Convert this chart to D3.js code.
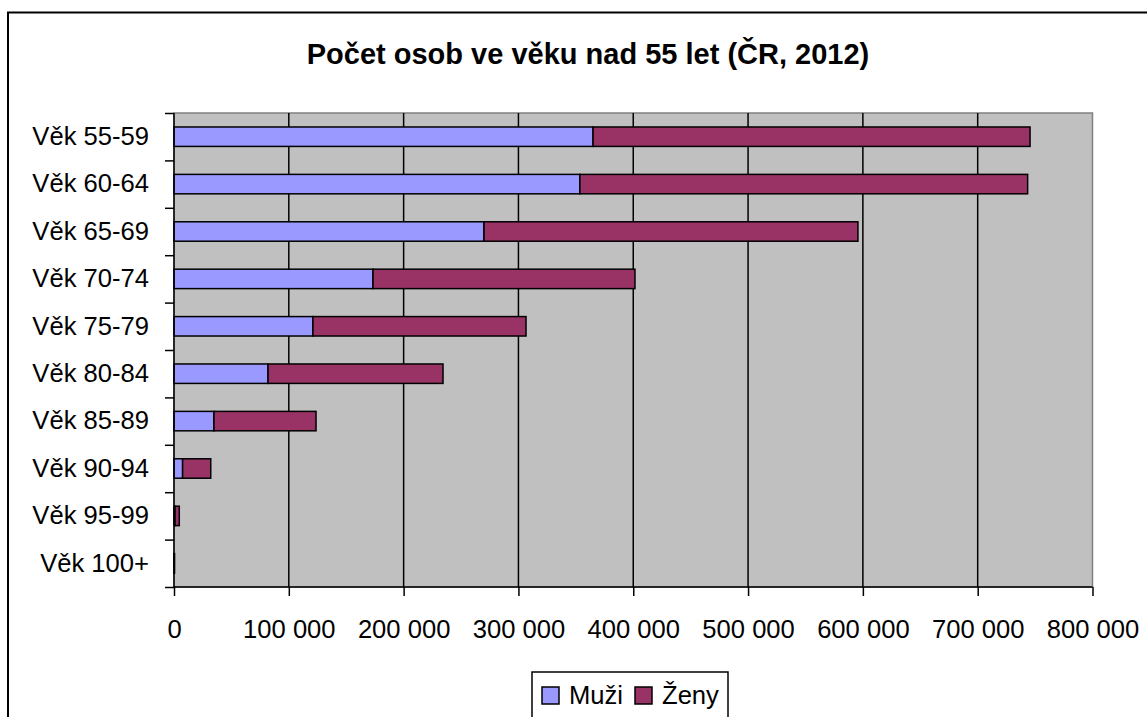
<!DOCTYPE html>
<html>

<head>
    <meta charset="utf-8">
    <style>
        body {
            margin: 0;
            background: #fff;
            font-family: 'Liberation Sans', Arial, sans-serif;
        }

        svg {
            display: block;
        }

        .axis .domain {
            display: none;
        }

        .axis text {
            font-size: 25.6px;
            fill: #000;
            font-family: 'Liberation Sans', Arial, sans-serif;
        }

        .axis .tick line {
            stroke: #000;
            stroke-width: 1.5;
        }
    </style>
</head>

<body>
    <svg width="1147" height="717"></svg>

    <script src="https://d3js.org/d3.v7.min.js"></script>

    <script>
        // data
        let categories = ["Věk 55-59", "Věk 60-64", "Věk 65-69", "Věk 70-74", "Věk 75-79",
            "Věk 80-84", "Věk 85-89", "Věk 90-94", "Věk 95-99", "Věk 100+"];
        let muzi = [365000, 353500, 270000, 173300, 121000, 81900, 34800, 7500, 900, 100];
        let zeny = [380600, 390000, 325700, 228200, 185600, 152400, 88900, 24500, 3700, 400];
        let seriesNames = ["Muži", "Ženy"];
        let xTicks = [0, 100000, 200000, 300000, 400000, 500000, 600000, 700000, 800000];

        let colors = ["#9999FF", "#993366"];

        let svg = d3.select("svg");

        let margin = { top: 113, right: 54.5, bottom: 130, left: 174 };
        let width = 1147, height = 717;
        let plotBottom = height - margin.bottom; // 587

        // outer chart border (right and bottom run off the picture)
        svg.append("rect")
            .attr("x", 8)
            .attr("y", 12.5)
            .attr("width", 1300)
            .attr("height", 900)
            .style("fill", "#fff")
            .style("stroke", "#000")
            .style("stroke-width", 2);

        let x = d3.scaleLinear()
            .domain([0, 800000])
            .range([margin.left, width - margin.right]);

        let y = d3.scaleBand()
            .domain(categories)
            .range([margin.top, plotBottom])
            .paddingInner(0.59)
            .paddingOuter(0.295);

        // plot background
        svg.append("rect")
            .attr("x", margin.left)
            .attr("y", margin.top)
            .attr("width", x(800000) - margin.left)
            .attr("height", plotBottom - margin.top)
            .style("fill", "#C0C0C0")
            .style("stroke", "#808080")
            .style("stroke-width", 1.5);

        // vertical gridlines
        svg.append("g")
            .selectAll("line")
            .data(xTicks.slice(1, -1))
            .join("line")
            .attr("x1", d => x(d))
            .attr("x2", d => x(d))
            .attr("y1", margin.top)
            .attr("y2", plotBottom)
            .style("stroke", "#000")
            .style("stroke-width", 1.5);

        // stacked bars
        let stackData = categories.map((c, i) => ({ cat: c, "Muži": muzi[i], "Ženy": zeny[i] }));
        let stacked = d3.stack().keys(seriesNames)(stackData);

        svg.append("g")
            .selectAll("g")
            .data(stacked)
            .join("g")
            .style("fill", (d, i) => colors[i])
            .selectAll("rect")
            .data(d => d)
            .join("rect")
            .attr("x", d => x(d[0]))
            .attr("y", d => y(d.data.cat))
            .attr("width", d => x(d[1]) - x(d[0]))
            .attr("height", y.bandwidth())
            .style("stroke", "#000")
            .style("stroke-width", 1.5);

        // axes lines
        svg.append("line")
            .attr("x1", margin.left).attr("x2", margin.left)
            .attr("y1", margin.top).attr("y2", plotBottom)
            .style("stroke", "#000").style("stroke-width", 1.5);
        svg.append("line")
            .attr("x1", margin.left).attr("x2", x(800000))
            .attr("y1", plotBottom).attr("y2", plotBottom)
            .style("stroke", "#000").style("stroke-width", 1.5);

        // y ticks at category boundaries
        let yTick = d3.scaleLinear().domain([0, categories.length]).range([margin.top, plotBottom]);
        svg.append("g")
            .attr("class", "axis")
            .attr("transform", `translate(${margin.left},0)`)
            .call(d3.axisLeft(yTick).ticks(10).tickFormat("").tickSize(9));

        // y labels
        svg.append("g")
            .attr("class", "axis")
            .attr("transform", `translate(${margin.left},0)`)
            .call(d3.axisLeft(y).tickSize(0).tickPadding(25));

        // x axis
        let fmt = d3.formatLocale({ decimal: ",", thousands: " ", grouping: [3], currency: ["", ""] }).format(",d");
        svg.append("g")
            .attr("class", "axis")
            .attr("transform", `translate(0,${plotBottom})`)
            .call(d3.axisBottom(x).tickValues(xTicks).tickFormat(fmt).tickSize(9).tickPadding(24));

        // title
        svg.append("text")
            .attr("x", 588)
            .attr("y", 64)
            .attr("text-anchor", "middle")
            .style("font-size", "29px")
            .style("font-weight", "bold")
            .text("Počet osob ve věku nad 55 let (ČR, 2012)");

        // legend
        let legend = svg.append("g").attr("transform", "translate(532,672)");
        legend.append("rect")
            .attr("width", 196)
            .attr("height", 80)
            .style("fill", "#fff")
            .style("stroke", "#000")
            .style("stroke-width", 1.5);

        let legendX = [10, 103];
        let items = legend.selectAll("g.item")
            .data(seriesNames)
            .join("g")
            .attr("class", "item")
            .attr("transform", (d, i) => `translate(${legendX[i]},15)`);
        items.append("rect")
            .attr("width", 17)
            .attr("height", 17)
            .style("fill", (d, i) => colors[i])
            .style("stroke", "#000")
            .style("stroke-width", 1.5);
        items.append("text")
            .attr("x", 27)
            .attr("y", 17)
            .style("font-size", "25.6px")
            .text(d => d);
    </script>
</body>

</html>
